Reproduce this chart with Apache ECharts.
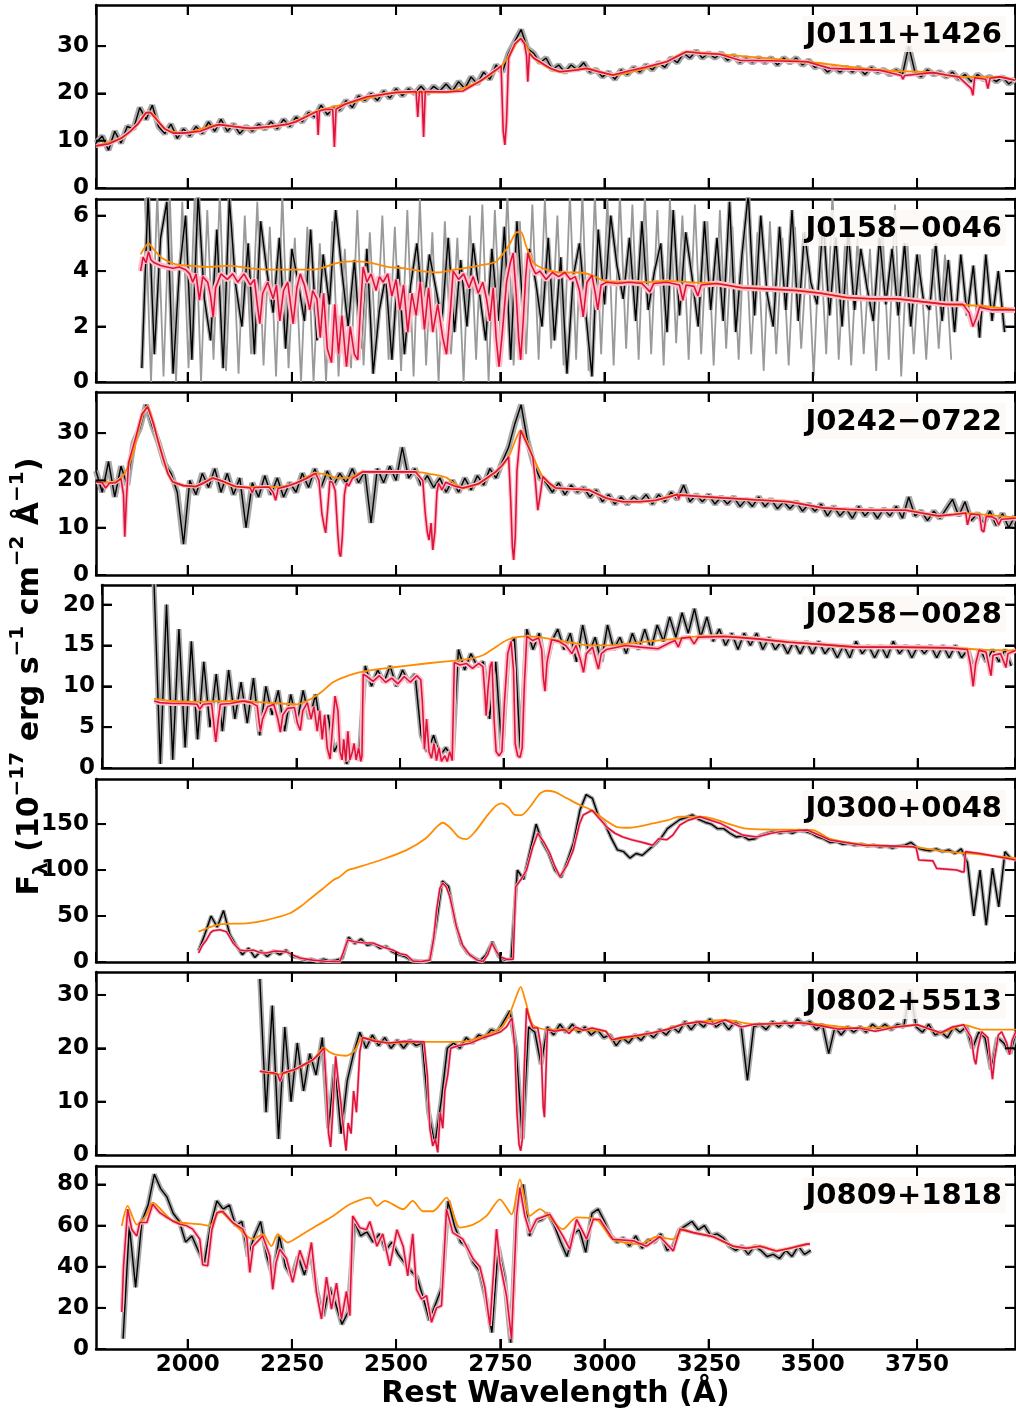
<!DOCTYPE html>
<html><head><meta charset="utf-8">
<script src="https://cdn.jsdelivr.net/npm/echarts@6/dist/echarts.min.js"></script>
<style>html,body{margin:0;padding:0;background:#fff}#c{width:1016px;height:1418px}</style>
</head><body><div id="c"></div>
<script>
// ---------------- DATA ----------------
const xTicks = [2000,2250,2500,2750,3000,3250,3500,3750];
const xTickStep = 250;
const yTickSets = [[0,10,20,30],[0,2,4,6],[0,10,20,30],[0,5,10,15,20],[0,50,100,150],[0,10,20,30],[0,20,40,60,80]];
const yTickSteps = [10, 2, 10, 5, 50, 10, 20];
const STEP = 15;
const names = ['J0111+1426','J0158\u22120046','J0242\u22120722','J0258\u22120028','J0300+0048','J0802+5513','J0809+1818'];
const yMaxes = [38.7, 6.6, 38.7, 22.4, 199, 34.3, 89];
const fluxStarts = [1780, 1890, 1780, 1906, 2026, 2173, 1845];

const p1Flux = [9.5,11.0,8.0,12.0,9.5,13.0,12.5,17.0,14.5,17.5,13.0,11.5,13.5,10.5,12.5,11.0,13.0,11.5,14.0,12.0,14.5,12.0,13.5,11.5,13.0,12.0,13.5,12.5,14.0,12.5,14.5,13.0,15.0,14.0,16.0,15.0,17.5,15.5,17.0,16.5,18.5,17.0,19.5,18.5,20.0,18.5,20.5,19.0,21.0,19.5,21.0,20.0,21.5,20.0,21.5,20.5,22.0,20.5,22.5,21.0,23.5,22.0,24.5,23.0,26.0,24.5,28.5,31.0,33.5,29.5,28.5,26.5,27.5,25.0,26.0,24.5,26.0,25.0,26.5,24.5,25.0,23.5,24.5,23.0,25.0,24.0,25.5,24.5,26.0,25.0,26.5,25.5,27.5,26.5,28.5,27.5,29.0,27.5,28.5,27.5,28.5,27.0,28.0,26.5,27.5,26.5,27.5,26.5,27.5,26.0,27.5,26.5,27.5,26.0,27.0,25.5,26.0,24.5,25.5,24.5,25.5,24.5,25.5,24.0,25.5,24.5,25.0,24.0,25.0,24.0,30.0,24.5,23.5,25.0,24.0,24.5,23.5,24.5,23.0,24.0,22.5,24.0,23.0,23.5,22.5,23.5,22.0,23.0];
const p1Model = [[1780,8.9],[1810,9.3],[1840,10.5],[1860,11.8],[1880,13.5],[1900,15.9],[1910,16.0],[1925,14.5],[1945,12.5],[1965,11.6],[1990,11.6],[2030,12.0],[2060,13.0],[2075,13.4],[2100,13.1],[2150,12.6],[2200,13.0],[2240,13.5],[2260,14.0],[2290,15.3],[2310,16.2],[2313,11.2],[2316,16.3],[2330,16.6],[2348,16.6],[2352,8.7],[2356,16.7],[2380,17.8],[2430,19.3],[2500,20.2],[2548,20.4],[2552,15.0],[2556,20.4],[2562,20.4],[2566,10.8],[2570,20.4],[2620,20.3],[2660,20.5],[2700,22.5],[2745,25.3],[2752,25.8],[2757,12.0],[2761,9.1],[2765,14.0],[2770,27.5],[2785,30.5],[2799,31.6],[2808,30.5],[2813,28.0],[2816,22.5],[2820,28.5],[2830,27.5],[2845,26.7],[2870,25.3],[2893,24.6],[2930,24.9],[2957,25.3],[2990,24.5],[3020,23.9],[3060,24.8],[3100,25.6],[3149,26.7],[3197,28.8],[3230,28.5],[3277,28.3],[3325,27.0],[3400,26.9],[3486,26.7],[3541,25.3],[3600,25.1],[3661,24.9],[3712,23.8],[3716,23.0],[3720,23.8],[3788,24.4],[3821,23.9],[3850,23.5],[3880,21.0],[3884,19.6],[3888,23.3],[3915,23.0],[3920,21.0],[3925,23.2],[3949,23.5],[3985,22.8]];
const p1Cont = [[1780,8.9],[1840,10.5],[1880,13.5],[1900,15.9],[1910,16.0],[1945,12.5],[1990,11.6],[2075,13.4],[2150,12.6],[2240,13.5],[2310,16.2],[2380,17.8],[2500,20.2],[2620,20.3],[2700,22.5],[2752,25.8],[2770,27.8],[2799,31.6],[2830,27.5],[2893,24.6],[2957,25.3],[3020,23.9],[3149,26.7],[3197,28.8],[3277,28.3],[3486,26.7],[3661,24.9],[3788,24.4],[3850,23.5],[3949,23.5],[3985,22.8]];

const p2Flux = [0.5,6.8,1.0,5.2,6.5,0.3,4.0,6.0,0.8,6.8,3.0,1.5,5.5,0.5,6.6,3.5,2.0,5.0,1.0,5.8,4.0,2.5,5.2,1.2,4.8,3.6,2.2,5.5,1.5,4.6,2.8,6.2,4.0,2.0,4.4,1.2,4.8,0.3,2.6,3.8,0.8,4.2,1.0,3.5,5.0,2.5,4.6,3.4,2.2,5.2,1.8,4.4,2.0,5.0,3.2,1.5,4.8,2.2,5.6,0.8,5.8,2.5,4.8,3.6,2.0,5.2,1.5,4.5,0.3,3.8,5.0,2.5,0.2,5.5,2.8,6.0,4.2,3.0,5.2,2.2,5.8,2.6,4.0,5.0,1.8,6.2,2.4,5.4,3.8,2.0,5.8,2.6,5.2,2.2,6.5,1.8,4.6,6.8,2.4,6.0,3.2,2.0,5.6,2.6,6.2,2.2,5.4,3.6,2.8,5.8,2.4,5.2,2.0,5.4,2.6,4.8,3.4,2.2,5.2,2.8,4.8,2.4,5.0,2.0,4.6,3.0,2.6,5.0,2.2,4.4,1.8,4.6,2.4,4.2,1.6,4.6,2.2,4.0,1.8];
const p2GreyStart = 1897;
const p2Grey = [6.8,0.0,6.8,0.2,6.8,0.0,6.5,0.5,6.8,0.0,6.2,0.8,6.8,0.4,5.8,0.3,6.0,1.0,6.5,0.6,5.6,0.2,6.8,0.5,5.2,0.0,5.6,0.0,5.0,0.0,5.8,0.2,4.8,0.5,6.2,0.6,5.4,1.0,6.0,0.8,5.6,0.4,6.2,0.2,6.6,0.6,5.4,0.0,5.8,1.0,5.2,0.0,6.0,0.8,6.4,0.0,6.2,1.2,6.8,0.6,5.8,1.0,6.4,0.8,6.6,1.2,6.0,0.6,6.8,0.8,6.8,0.4,6.8,1.0,6.6,0.6,6.8,1.2,6.4,0.8,6.8,1.0,6.2,0.6,6.6,1.4,6.0,0.8,6.4,1.0,5.8,0.6,6.2,1.2,5.6,0.8,6.0,1.0,5.4,0.4,5.8,1.0,5.2,0.6,5.6,1.2,5.0,0.2,5.4,1.0,6.8,0.8,5.0,0.6,5.2,1.0,4.8,0.4,5.6,0.8,6.4,0.2,5.0,1.0,4.6,0.8,4.8,1.2,4.6,0.8];
const p2Model = [[1887,4.0],[1893,4.5],[1900,4.3],[1906,4.7],[1912,4.4],[1920,4.3],[1935,4.2],[1950,4.15],[1965,4.1],[1980,4.15],[1995,4.05],[2005,3.9],[2012,3.6],[2020,3.9],[2028,2.95],[2036,3.8],[2048,3.6],[2055,3.1],[2061,2.35],[2067,3.4],[2080,3.9],[2095,3.7],[2108,3.9],[2120,3.6],[2135,3.9],[2150,3.5],[2160,3.7],[2167,2.8],[2173,2.1],[2180,3.2],[2192,3.6],[2205,3.0],[2213,3.5],[2221,2.2],[2230,3.3],[2240,3.6],[2253,2.1],[2262,3.4],[2270,3.9],[2280,3.5],[2293,2.6],[2300,3.3],[2310,3.0],[2318,1.6],[2326,3.2],[2335,1.2],[2345,0.7],[2353,2.8],[2362,1.0],[2370,2.4],[2381,0.55],[2390,2.0],[2400,1.0],[2408,0.8],[2414,2.5],[2421,4.15],[2430,3.6],[2440,3.9],[2452,3.3],[2460,3.8],[2469,3.6],[2480,3.9],[2490,3.1],[2500,3.7],[2509,2.6],[2518,3.5],[2528,1.8],[2538,3.2],[2548,2.4],[2558,3.6],[2568,1.9],[2578,3.4],[2588,1.8],[2600,2.8],[2612,1.6],[2621,1.0],[2630,2.5],[2637,4.0],[2650,3.7],[2662,3.9],[2675,3.4],[2685,3.8],[2697,3.2],[2708,3.6],[2717,3.0],[2725,2.2],[2733,3.4],[2740,1.6],[2747,0.55],[2755,1.8],[2765,3.6],[2774,4.3],[2781,4.65],[2788,3.2],[2794,1.6],[2799,0.8],[2805,2.2],[2811,3.8],[2816,4.65],[2825,4.2],[2835,3.9],[2845,4.0],[2860,3.7],[2875,3.95],[2890,3.8],[2905,3.95],[2918,3.7],[2930,3.8],[2940,3.3],[2949,2.35],[2958,3.6],[2970,3.85],[2978,3.2],[2984,2.6],[2992,3.5],[3005,3.6],[3030,3.55],[3060,3.6],[3090,3.55],[3100,3.4],[3109,3.25],[3118,3.55],[3150,3.6],[3180,3.5],[3188,2.95],[3196,3.5],[3215,3.45],[3224,3.1],[3232,3.5],[3270,3.55],[3330,3.4],[3400,3.35],[3460,3.3],[3520,3.2],[3580,3.05],[3640,3.0],[3700,3.0],[3760,2.9],[3820,2.8],[3860,2.8],[3875,2.5],[3884,2.0],[3892,2.3],[3900,2.7],[3930,2.6],[3985,2.6]];
const p2Cont = [[1887,4.6],[1906,5.0],[1920,4.75],[1940,4.45],[1970,4.25],[2000,4.2],[2050,4.15],[2100,4.2],[2150,4.1],[2200,4.05],[2250,4.05],[2300,4.05],[2330,4.15],[2360,4.3],[2400,4.35],[2440,4.3],[2480,4.15],[2520,4.1],[2560,4.0],[2600,3.95],[2640,4.05],[2700,4.2],[2740,4.35],[2770,4.9],[2790,5.4],[2800,5.4],[2812,4.9],[2830,4.3],[2860,4.05],[2900,3.95],[2940,3.95],[2970,3.85],[3000,3.65],[3050,3.6],[3100,3.6],[3150,3.65],[3200,3.6],[3270,3.55],[3330,3.4],[3400,3.35],[3460,3.3],[3520,3.2],[3580,3.05],[3640,3.0],[3700,3.0],[3760,2.9],[3820,2.8],[3900,2.75],[3985,2.6]];

const p3Flux = [22.0,17.5,24.0,16.5,23.0,19.0,28.0,31.0,36.0,31.5,28.0,23.5,21.5,17.5,6.5,20.0,17.0,21.5,18.5,22.5,17.5,21.5,17.0,20.5,10.0,19.5,16.5,21.0,17.0,20.5,16.5,19.5,17.5,21.5,18.5,22.5,18.5,22.0,19.0,21.5,19.5,22.5,19.5,22.0,11.0,22.5,19.5,23.0,20.0,27.0,20.5,22.5,19.0,21.0,18.5,20.5,17.5,20.0,17.5,20.5,18.0,21.0,19.0,22.5,20.5,24.0,27.0,32.0,36.0,28.5,23.5,20.5,19.5,17.5,19.5,17.0,19.0,17.5,18.5,16.5,18.0,15.5,17.0,15.0,16.5,15.0,16.5,15.5,17.0,15.0,17.0,15.5,17.5,16.0,19.0,15.5,17.0,15.5,17.0,15.0,16.5,15.0,16.5,14.5,16.0,14.5,16.5,14.5,16.0,14.0,15.5,14.0,15.5,13.5,15.0,13.5,15.0,12.5,14.5,12.5,14.0,12.0,14.5,12.5,14.0,12.0,14.0,12.5,14.5,12.0,16.5,12.5,13.5,11.5,13.5,12.0,14.0,16.0,12.5,15.5,11.5,13.0,11.0,13.5,10.5,13.0,10.0,12.5];
const p3Model = [[1780,19.7],[1795,19.5],[1803,18.4],[1812,19.4],[1827,19.5],[1840,20.4],[1846,17],[1849,8.1],[1853,16],[1858,23.7],[1875,29],[1890,34],[1904,35.6],[1918,32],[1930,28],[1940,25],[1952,21.5],[1964,19.7],[1990,18.9],[2019,18.7],[2040,19.5],[2060,20.5],[2085,19.8],[2115,18.7],[2140,18.5],[2150,18.4],[2155,17.4],[2160,18.5],[2195,18.6],[2205,17.5],[2211,15.8],[2217,18.3],[2240,18.8],[2259,19.4],[2285,20.4],[2307,21.5],[2315,20],[2322,13],[2327,10.5],[2331,8.9],[2336,14],[2341,19.8],[2347,19.6],[2354,17.8],[2360,9],[2364,4.5],[2367,3.9],[2371,8],[2376,17],[2381,19.5],[2386,18.8],[2395,20.4],[2403,20.8],[2420,21.8],[2480,21.8],[2547,21.8],[2564,20],[2570,13],[2575,9],[2579,7.4],[2584,11],[2588,5.3],[2593,9],[2598,17.5],[2602,19.4],[2610,18],[2619,19.6],[2640,18.8],[2660,18.4],[2698,19.3],[2739,21.8],[2755,23.2],[2770,25],[2775,16],[2779,6],[2782,3.2],[2786,8],[2790,22],[2799,30.6],[2810,28.5],[2828,25],[2834,20],[2840,13.7],[2846,17],[2852,20.8],[2867,19.5],[2883,18.4],[2920,18.2],[2962,18],[3003,16.3],[3044,15.5],[3085,15.5],[3123,15.8],[3160,16.6],[3175,17.1],[3178,16],[3181,16.9],[3230,16.6],[3284,16.3],[3360,15.9],[3442,15.5],[3524,14.2],[3580,13.9],[3644,13.7],[3723,13.7],[3760,13.1],[3802,12.5],[3840,12.8],[3867,13.1],[3871,10.6],[3874,10.2],[3878,12.9],[3900,12.7],[3905,9.5],[3910,9.1],[3916,12.4],[3930,12.3],[3940,11.8],[3946,10.6],[3952,11.8],[3987,12]];
const p3Cont = [[1780,19.7],[1820,19.6],[1845,21],[1870,26],[1888,33],[1904,35.6],[1918,32],[1940,25],[1964,19.7],[2019,18.7],[2060,20.5],[2115,18.7],[2160,18.6],[2211,18.6],[2259,19.4],[2307,21.5],[2330,21.3],[2360,20.5],[2390,20.6],[2420,21.8],[2547,21.8],[2580,21.4],[2620,20.6],[2660,18.4],[2698,19.3],[2739,21.8],[2770,25],[2799,30.6],[2828,25],[2852,20.8],[2883,18.4],[2920,18.2],[2962,18],[3003,16.3],[3044,15.5],[3085,15.5],[3123,15.8],[3175,17],[3230,16.6],[3284,16.3],[3360,15.9],[3442,15.5],[3524,14.2],[3644,13.7],[3723,13.7],[3802,12.5],[3867,13.1],[3930,12.6],[3987,12.2]];

const p4Flux = [22.5,0.5,20.0,1.0,17.0,2.5,15.5,3.5,13.0,5.0,11.5,4.5,12.0,6.0,10.5,5.5,11.0,4.0,10.0,6.5,9.5,4.5,9.0,5.5,9.5,6.0,9.0,4.0,6.5,2.0,3.5,0.5,2.5,1.0,12.5,10.0,12.0,10.5,12.5,10.0,12.0,10.5,11.5,4.0,2.0,4.0,1.5,2.5,1.0,14.5,12.0,14.0,12.5,13.0,6.0,13.0,2.0,14.0,16.0,1.5,17.0,14.5,16.5,12.0,15.5,17.0,14.5,16.5,13.0,17.5,14.0,16.0,13.0,17.5,14.5,16.0,14.0,16.5,14.5,17.0,14.5,17.5,15.5,18.5,16.0,19.0,16.5,19.5,16.0,18.5,15.5,17.0,15.0,16.5,14.5,16.5,15.0,16.5,14.5,16.0,14.5,15.5,14.0,15.5,14.0,15.5,14.0,15.5,14.0,15.0,13.5,15.0,13.5,15.5,14.0,15.0,13.5,15.0,13.5,15.5,14.0,15.0,13.5,15.0,14.0,15.0,13.5,15.0,13.5,15.0,13.5,14.5,12.0,14.5,13.0,14.5,13.0,14.5,12.5];
const p4Model = [[1906,8.2],[1920,8.0],[1950,7.9],[1980,7.9],[2010,7.8],[2016,7.2],[2020,7.0],[2025,7.8],[2045,7.9],[2050,5.5],[2055,3.2],[2060,5.5],[2066,7.8],[2090,7.9],[2122,8.2],[2140,8.0],[2155,7.6],[2160,5.5],[2163,4.5],[2168,6.0],[2180,7.5],[2195,7.8],[2205,6.0],[2211,4.4],[2217,6.5],[2228,7.3],[2245,7.4],[2252,5.5],[2259,4.6],[2265,7.0],[2276,8.0],[2285,6.0],[2292,7.5],[2300,4.5],[2306,7.0],[2312,3.5],[2318,6.5],[2324,2.5],[2331,1.1],[2337,5.0],[2343,8.8],[2350,7.0],[2355,2.0],[2360,1.0],[2364,3.5],[2369,0.8],[2374,4.5],[2379,1.0],[2385,2.0],[2389,3.0],[2394,1.0],[2400,2.5],[2405,0.8],[2408,1.5],[2411,11.5],[2420,11.2],[2435,10.6],[2450,11.3],[2465,10.5],[2480,11.0],[2495,10.3],[2510,11.2],[2525,10.5],[2540,11.3],[2550,10.8],[2554,8.0],[2559,2.3],[2564,6.0],[2570,2.0],[2576,1.2],[2582,3.0],[2588,0.9],[2594,2.5],[2600,0.8],[2608,1.5],[2614,0.8],[2620,2.0],[2626,0.9],[2631,12.9],[2645,12.6],[2660,12.8],[2675,12.2],[2690,12.8],[2700,12.4],[2705,9.0],[2708,6.4],[2712,9.5],[2718,12.5],[2722,13.0],[2727,6.0],[2732,2.0],[2739,1.5],[2746,2.0],[2752,8.0],[2760,14.0],[2768,15.5],[2774,12.0],[2778,3.0],[2784,1.5],[2790,1.3],[2795,2.5],[2800,10.0],[2806,16.1],[2820,15.6],[2835,15.9],[2842,14.5],[2846,11.0],[2850,9.4],[2855,13.0],[2866,15.7],[2883,15.5],[2900,15.0],[2915,14.0],[2925,15.0],[2937,13.0],[2943,11.7],[2950,14.0],[2965,14.8],[2973,13.2],[2979,12.1],[2986,14.0],[2998,14.5],[3044,15.0],[3080,14.8],[3123,14.6],[3150,15.3],[3164,15.6],[3172,14.8],[3180,15.9],[3200,16.0],[3210,15.2],[3220,16.0],[3284,16.1],[3363,15.8],[3440,15.4],[3524,15.1],[3603,14.8],[3700,14.8],[3826,14.7],[3870,14.5],[3878,12.5],[3884,10.0],[3890,12.8],[3898,14.4],[3915,14.2],[3922,12.5],[3927,11.3],[3932,13.8],[3950,14.0],[3958,13.0],[3963,12.3],[3968,14.0],[3987,14.4]];
const p4Cont = [[1906,8.5],[1950,8.2],[2000,8.1],[2098,8.2],[2180,8.0],[2252,7.8],[2283,8.4],[2310,9.3],[2338,10.5],[2380,11.4],[2420,11.9],[2480,12.3],[2547,12.7],[2600,13.0],[2660,13.3],[2700,13.8],[2722,14.5],[2760,15.7],[2804,16.1],[2840,16.0],[2883,15.6],[2920,15.3],[2960,15.0],[3000,15.0],[3044,15.2],[3100,15.5],[3164,15.8],[3220,16.1],[3284,16.1],[3363,15.8],[3440,15.4],[3524,15.1],[3603,14.8],[3700,14.8],[3826,14.7],[3900,14.5],[3987,14.4]];

const p5Flux = [12,30,50,38,56,30,18,8,15,5,12,6,12,8,13,6,5,2,3,1,3,1,2,4,27,20,25,18,20,15,17,11,8,6,2,1,0.5,2,40,88,82,45,20,10,5,1,8,22,6,2,3,100,90,120,150,130,118,100,92,110,130,165,182,178,158,150,135,122,120,113,118,116,122,128,135,145,150,155,157,160,155,152,150,145,145,140,136,137,133,134,138,140,142,140,142,140,143,142,140,136,134,130,131,128,129,127,128,126,127,125,126,124,126,127,130,124,122,121,123,120,122,118,123,108,50,100,40,102,60,120,112];
const p5Model = [[2026,9.8],[2035,18],[2045,24],[2055,32],[2061,34],[2077,35],[2093,33],[2101,27],[2109,20.6],[2125,13],[2140,12],[2157,13],[2175,10],[2189,9.8],[2210,12],[2237,11],[2255,7],[2269,4.3],[2300,2],[2330,0.8],[2349,0.4],[2365,0.4],[2373,10],[2384,24],[2400,22],[2420,21],[2444,20.6],[2470,16],[2492,13],[2510,9],[2525,7.6],[2541,1],[2560,0.5],[2581,2],[2590,25],[2597,56],[2605,80],[2612,86],[2620,82],[2629,71],[2637,55],[2645,38],[2660,18],[2677,7.6],[2695,2],[2709,0.5],[2720,8],[2730,20.6],[2740,12],[2749,5.8],[2765,3],[2781,3],[2787,81.9],[2800,90],[2813,100],[2828,125],[2840,140],[2855,130],[2869,118],[2880,105],[2893,92.7],[2910,105],[2925,121.7],[2940,150],[2949,159.8],[2970,165],[2990,155],[3005,147],[3025,140],[3044,136],[3065,133],[3085,130.8],[3100,129],[3116,127],[3130,134],[3150,133],[3164,138],[3181,149],[3200,154],[3229,158],[3277,151],[3310,143],[3332,138],[3365,136],[3400,140],[3421,141.6],[3486,143.5],[3520,137],[3541,132.6],[3620,127],[3700,126],[3740,125.3],[3748,124],[3754,110.9],[3788,110],[3797,101.8],[3845,100],[3858,98],[3863,98],[3866,120],[3901,118],[3950,114],[3987,110.9]];
const p5Cont = [[2026,33],[2077,41],[2141,42],[2189,45.6],[2245,53],[2270,60],[2300,71],[2325,80],[2349,89],[2365,92.7],[2385,100],[2413,103.6],[2470,112],[2525,121.7],[2570,134],[2600,148],[2612,151.4],[2630,146],[2650,136],[2669,133.7],[2690,142],[2720,160],[2740,170],[2753,172.5],[2770,168],[2785,160],[2801,159.8],[2820,168],[2845,183],[2861,186.2],[2880,185],[2910,178],[2941,170.7],[2970,165],[3000,155],[3029,147],[3060,146],[3090,148],[3116,150.7],[3150,154],[3181,158],[3229,158],[3260,156],[3300,150],[3341,145],[3400,144],[3500,143.5],[3541,134],[3620,128],[3700,126],[3740,125.3],[3821,120],[3900,117],[3987,113]];

const p6Flux = [33,8,28,3,24,10,21,12,19,15,22,5,17,4,14,19,23,20,22.5,20.5,22,20,21.5,20,21.5,20.5,21,8,2,10,20,21,20,22,21,22.5,22,23.5,23,25,27,20,3,24,23,17,24,22.5,24.5,23,24.5,23,24,22.5,23.5,22,22.5,20.5,22,21,22.5,21.5,23,22,23.5,22.5,24,23,25,23.5,25,24,25.5,24,25,23.5,25,24,14,24,24.5,23.5,25,24,25,24,25.5,24.5,25,23.5,24.5,19,24,22.5,24,23,24,23,24.5,23.5,24.5,23.5,24.5,24,31,24,23,24.5,22.5,23,22,24,23,24,20,23,22,16,22,21,19,23];
const p6Model = [[2173,15.7],[2190,15.5],[2205,15.4],[2216,15.1],[2222,13.8],[2228,15.3],[2245,15.8],[2257,16.0],[2280,17.0],[2300,17.8],[2314,18.8],[2327,20.1],[2333,12],[2338,4],[2343,1.5],[2348,8],[2355,18.5],[2361,14],[2368,9.5],[2375,4],[2380,0.8],[2385,6],[2392,4],[2398,12],[2405,8],[2413,19.4],[2420,22],[2450,21.3],[2483,21],[2520,21.3],[2567,21.2],[2575,15],[2581,5],[2588,1.7],[2594,3],[2600,0.5],[2606,8],[2612,5],[2617,12],[2624,15],[2631,20],[2650,20.5],[2679,21],[2710,22],[2730,22.5],[2751,23.1],[2765,24],[2778,25.7],[2785,20],[2790,8],[2795,2],[2799,0.8],[2803,3],[2807,15],[2813,27.5],[2820,25.5],[2828,23.8],[2840,23.8],[2848,20],[2853,9],[2856,7.1],[2859,14],[2863,23.5],[2880,23.2],[2904,23.5],[2915,22.8],[2930,24],[2950,23.4],[2970,23.8],[3003,23.2],[3018,21.6],[3040,22],[3070,22.3],[3116,22.9],[3150,23.5],[3188,24.5],[3230,25],[3260,24.5],[3290,25.3],[3328,24],[3360,24.5],[3400,24.6],[3469,24.8],[3520,24.2],[3560,23.6],[3608,23.8],[3650,23.2],[3700,24],[3750,24.4],[3780,23.6],[3807,22.9],[3835,24],[3862,24.4],[3880,22],[3887,18],[3891,17],[3896,20],[3905,23.1],[3920,22],[3927,17],[3931,14.2],[3936,18],[3945,22.5],[3953,23.1],[3965,21],[3972,18.8],[3978,21.5],[3987,23.1]];
const p6Cont = [[2173,15.7],[2216,15.1],[2257,16.0],[2300,17.8],[2327,20.1],[2340,19.3],[2355,18.8],[2380,18.6],[2400,19.5],[2420,22],[2483,21],[2567,21.2],[2610,21.2],[2653,21.2],[2700,22],[2751,23.8],[2770,26],[2785,29],[2799,31.5],[2810,29],[2828,24.4],[2863,23.5],[2904,23.5],[2950,23.4],[3003,23.2],[3018,21.6],[3116,22.9],[3188,24.5],[3230,25],[3290,25.3],[3360,24.5],[3469,24.8],[3608,23.8],[3700,24],[3750,24.4],[3807,22.9],[3862,24.4],[3905,23.5],[3953,23.5],[3987,23.5]];

const p7Flux = [5,60,30,62,70,85,78,74,66,62,52,55,48,42,60,72,68,70,60,62,45,55,62,45,35,55,40,35,45,36,48,28,16,30,22,12,18,62,55,57,52,56,48,52,46,42,38,35,25,14,22,30,72,60,52,50,42,38,25,8,50,35,3,70,80,55,62,63,66,60,52,45,56,58,47,66,68,62,55,52,54,50,55,49,53,52,56,48,50,58,60,62,58,60,55,56,54,50,48,50,46,50,48,45,46,44,48,45,50,46,48];
const p7Model = [[1842,18],[1846,40],[1856,68],[1866,58],[1878,55],[1885,61.5],[1902,61.5],[1916,70.4],[1933,66.3],[1950,64],[1964,62.3],[1981,60.7],[1998,59.9],[2012,58.3],[2029,53.4],[2036,41],[2048,40.5],[2058,58],[2070,66.3],[2084,67],[2108,61.5],[2132,58.3],[2142,54],[2149,37.2],[2157,50],[2180,55],[2197,45.3],[2204,29],[2212,42],[2221,48.5],[2237,44],[2252,32.4],[2269,48],[2285,38.8],[2297,51.8],[2309,27.5],[2321,14.6],[2333,35],[2345,19.4],[2357,32],[2369,14.6],[2381,28],[2389,16.2],[2396,64.7],[2413,59],[2429,58],[2437,62],[2454,50],[2468,56],[2485,40.4],[2502,58],[2517,50],[2528,35.6],[2540,56],[2549,29],[2561,24.3],[2573,26],[2585,13],[2597,20],[2609,21],[2621,68],[2636,56.6],[2660,53.4],[2685,43.7],[2701,40],[2713,30],[2725,11.3],[2741,58.3],[2749,42],[2765,25.9],[2777,4.9],[2789,64.7],[2797,78.5],[2809,64.7],[2821,56.6],[2837,63.1],[2869,65.5],[2900,55],[2917,48.5],[2933,63],[2957,53.4],[2973,63],[2989,63],[3020,53.4],[3069,52.6],[3101,50],[3133,54.6],[3165,47.7],[3181,58.3],[3213,56.6],[3261,54.6],[3309,50],[3341,49],[3373,50],[3413,47.7],[3445,49],[3486,51],[3493,51]];
const p7Cont = [[1842,59.9],[1856,69.6],[1878,60.5],[1902,65.5],[1916,71.2],[1964,62.3],[2029,60.7],[2053,59.9],[2077,67],[2108,61.5],[2157,53.4],[2180,55.8],[2201,50],[2216,55.8],[2240,51.8],[2269,55],[2309,59.9],[2349,64.7],[2389,70.4],[2437,73.6],[2454,69.6],[2473,72],[2517,68],[2540,72],[2564,67],[2588,67],[2621,73.6],[2653,59],[2685,60.5],[2717,64.7],[2749,72.8],[2777,65.5],[2797,82.5],[2821,64.7],[2845,68],[2900,58.3],[2933,64],[2981,63],[3020,53.4],[3085,51],[3125,54.6],[3165,53.4],[3189,58.3],[3213,56.6],[3261,54.6],[3309,50],[3341,49],[3373,50],[3413,47.7],[3445,49],[3486,51],[3493,51]];

const fluxes = [p1Flux,p2Flux,p3Flux,p4Flux,p5Flux,p6Flux,p7Flux];
const models = [p1Model,p2Model,p3Model,p4Model,p5Model,p6Model,p7Model];
const conts = [p1Cont,p2Cont,p3Cont,p4Cont,p5Cont,p6Cont,p7Cont];

// ---------------- LAYOUT / STYLE ----------------
const FONT = '"DejaVu Sans", "Liberation Sans", sans-serif';
const X_MIN = 1780, X_MAX = 3985;
const PANEL_TOPS = [5, 199, 392, 585, 779, 972, 1166];
const PANEL_H = 183;
const PINK_W = [4, 6, 4, 5, 3, 3, 4];
const GREY_W = [6, 4, 6, 5, 4, 5, 5];
const TICK_LEN = 10, TICK_W = 2;
const Y_TITLE = '{b|F}{sub|\u03bb}{b| (10}{sup|\u221217}{b| erg s}{sup|\u22121}{b| cm}{sup|\u22122}{b| \u00c5}{sup|\u22121}{b|)}';

const grids = [], xAxes = [], yAxes = [], series = [], titles = [];

names.forEach((nm, i) => {
  grids.push({left:96, width:919, top:PANEL_TOPS[i], height:PANEL_H});
  const mkLine = () => ({show:true, onZero:false, lineStyle:{color:'#000', width:2.5}});
  const mkTick = () => ({show:true, inside:true, length:TICK_LEN, lineStyle:{color:'#000', width:TICK_W}});
  const mkLab = () => ({fontFamily:FONT, fontWeight:'bold', fontSize:23, color:'#000'});

  const xb = {type:'value', gridIndex:i, position:'bottom', min:X_MIN, max:X_MAX,
    minInterval:xTickStep, maxInterval:xTickStep, axisLine:mkLine(), axisTick:mkTick(), splitLine:{show:false},
    axisLabel:Object.assign({show:i===6, margin:5, showMinLabel:false, showMaxLabel:false, formatter:v=>String(v)}, mkLab())};
  if (i === 6) {
    xb.name = 'Rest Wavelength (\u00c5)';
    xb.nameLocation = 'middle';
    xb.nameGap = 30;
    xb.nameTextStyle = {fontFamily:FONT, fontWeight:'bold', fontSize:30, color:'#000'};
  }
  xAxes.push(xb);
  xAxes.push({type:'value', gridIndex:i, position:'top', min:X_MIN, max:X_MAX,
    minInterval:xTickStep, maxInterval:xTickStep, axisLine:mkLine(), axisTick:mkTick(), splitLine:{show:false},
    axisLabel:{show:false}});

  const yl = {type:'value', gridIndex:i, position:'left', min:0, max:yMaxes[i],
    minInterval:yTickSteps[i], maxInterval:yTickSteps[i], axisLine:mkLine(), axisTick:mkTick(), splitLine:{show:false},
    axisLabel:Object.assign({show:true, margin:7, showMinLabel:true, showMaxLabel:false, formatter:v=>String(v)}, mkLab())};
  if (i === 3) {
    yl.name = Y_TITLE;
    yl.nameLocation = 'middle';
    yl.nameRotate = 90;
    yl.nameGap = 46;
    yl.nameTextStyle = {color:'#000', rich:{
      b:{fontFamily:FONT, fontWeight:'bold', fontSize:30, lineHeight:44, verticalAlign:'middle', color:'#000'},
      sub:{fontFamily:FONT, fontWeight:'bold', fontSize:20, lineHeight:22, verticalAlign:'bottom', color:'#000'},
      sup:{fontFamily:FONT, fontWeight:'bold', fontSize:20, lineHeight:28, verticalAlign:'top', color:'#000'}
    }};
  }
  yAxes.push(yl);
  yAxes.push({type:'value', gridIndex:i, position:'right', min:0, max:yMaxes[i],
    minInterval:yTickSteps[i], maxInterval:yTickSteps[i], axisLine:mkLine(), axisTick:mkTick(), splitLine:{show:false},
    axisLabel:{show:false}});

  const base = {type:'line', xAxisIndex:2*i, yAxisIndex:2*i, showSymbol:false, symbol:'none'};
  const fluxData = fluxes[i].map((v,k)=>[fluxStarts[i] + k*STEP, v]);
  if (i === 1) {
    const gData = p2Grey.map((v,k)=>[p2GreyStart + k*STEP, v]);
    series.push(Object.assign({}, base, {data:gData, lineStyle:{color:'#9a9a9a', width:1.8}}));
  }
  series.push(Object.assign({}, base, {data:fluxData, lineStyle:{color:'#a8a8a8', width:GREY_W[i]}}));
  series.push(Object.assign({}, base, {data:fluxData, lineStyle:{color:'#000', width:1.4}}));
  series.push(Object.assign({}, base, {data:models[i], lineStyle:{color:'#ffc0cb', width:PINK_W[i]}}));
  series.push(Object.assign({}, base, {data:conts[i], smooth:0.25, lineStyle:{color:'#ff8c00', width:1.8}}));
  series.push(Object.assign({}, base, {data:models[i], lineStyle:{color:'#dc143c', width:1.6}}));

  titles.push({text:nm, right:10, top:PANEL_TOPS[i] + 11,
    textStyle:{fontFamily:FONT, fontWeight:'bold', fontSize:29, color:'#000', lineHeight:32},
    backgroundColor:'rgba(253,248,244,0.85)', padding:[3,4,1,3]});
});

const chart = echarts.init(document.getElementById('c'));
chart.setOption({animation:false, title:titles, grid:grids, xAxis:xAxes, yAxis:yAxes, series:series});

// inward tick marks on all four sides, placed through the axes' own scales
const tickLines = [];
names.forEach((nm, i) => {
  const finder = {xAxisIndex:2*i, yAxisIndex:2*i};
  xTicks.forEach(v => {
    const b = chart.convertToPixel(finder, [v, 0]);
    const t = chart.convertToPixel(finder, [v, yMaxes[i]]);
    if (b) tickLines.push({type:'line', z:50, shape:{x1:b[0], y1:b[1], x2:b[0], y2:b[1]-TICK_LEN}, style:{stroke:'#000', lineWidth:TICK_W}});
    if (t) tickLines.push({type:'line', z:50, shape:{x1:t[0], y1:t[1], x2:t[0], y2:t[1]+TICK_LEN}, style:{stroke:'#000', lineWidth:TICK_W}});
  });
  yTickSets[i].forEach(v => {
    const l = chart.convertToPixel(finder, [X_MIN, v]);
    const r = chart.convertToPixel(finder, [X_MAX, v]);
    if (l) tickLines.push({type:'line', z:50, shape:{x1:l[0], y1:l[1], x2:l[0]+TICK_LEN, y2:l[1]}, style:{stroke:'#000', lineWidth:TICK_W}});
    if (r) tickLines.push({type:'line', z:50, shape:{x1:r[0], y1:r[1], x2:r[0]-TICK_LEN, y2:r[1]}, style:{stroke:'#000', lineWidth:TICK_W}});
  });
});
chart.setOption({graphic:tickLines});
</script></body></html>
